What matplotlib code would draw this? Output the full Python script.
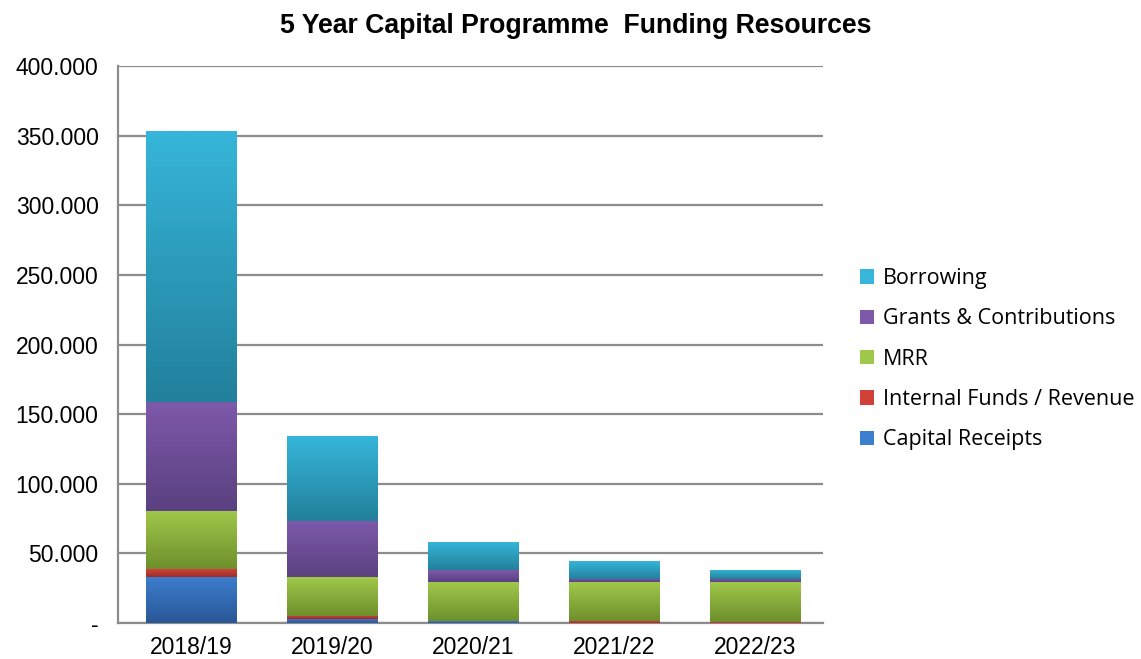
import numpy as np
import matplotlib
matplotlib.use("Agg")
import matplotlib.pyplot as plt
from matplotlib.colors import LinearSegmentedColormap

# values (in £m)
years = ["2018/19", "2019/20", "2020/21", "2021/22", "2022/23"]
capital_receipts = [33.3, 2.9, 1.4, 0.3, 0.2]
internal_funds = [5.3, 2.4, 0.2, 1.2, 0.2]
mrr = [41.8, 28.0, 27.6, 27.7, 28.8]
grants = [78.3, 40.2, 8.6, 2.2, 2.4]
borrowing = [194.6, 60.8, 20.4, 12.9, 6.5]

series = [
    ("Capital Receipts", capital_receipts, "#3C7ECF", "#2A5796"),
    ("Internal Funds / Revenue", internal_funds, "#D0413A", "#9E2D28"),
    ("MRR", mrr, "#A0C84A", "#6E8F2C"),
    ("Grants & Contributions", grants, "#7D59AA", "#5A4180"),
    ("Borrowing", borrowing, "#36B6DA", "#22809B"),
]

plt.rcParams['font.family'] = ['Liberation Sans', 'DejaVu Sans']

fig = plt.figure(figsize=(11.41, 6.59), dpi=100)
ax = fig.add_axes([0.1034, 0.0546, 0.6179, 0.8452])

x = np.arange(len(years))
width = 0.64
bottom = np.zeros(len(years))
handles = []
for name, vals, top_c, bot_c in series:
    bars = ax.bar(x + 0.02, vals, width, bottom=bottom, color=top_c, edgecolor="none",
                  label=name, zorder=2)
    # vertical gradient like the office chart fill
    cmap = LinearSegmentedColormap.from_list(name, [bot_c, top_c])
    grad = np.linspace(0, 1, 256).reshape(-1, 1)
    for b in bars:
        x0, y0 = b.get_x(), b.get_y()
        w, h = b.get_width(), b.get_height()
        if h <= 0:
            continue
        im = ax.imshow(grad, cmap=cmap, aspect="auto", origin="lower",
                       extent=[x0, x0 + w, y0, y0 + h], zorder=3)
        im.set_clip_path(b)
    handles.append(bars)
    bottom += np.array(vals)

ax.set_xlim(-0.5, len(years) - 0.5)
ax.set_ylim(0, 400)
ax.set_yticks(np.arange(0, 401, 50))
ax.set_yticklabels(["-"] + [f"{v:.3f}" for v in np.arange(50, 401, 50)], fontsize=16.5)
ax.set_xticks(x + 0.02)
ax.set_xticklabels(years, fontsize=16.5)
ax.tick_params(axis="y", length=0, pad=14)
ax.tick_params(axis="x", length=0, pad=9)
ax.yaxis.grid(True, color="#8C8C8C", linewidth=1.6, zorder=0)
ax.set_axisbelow(True)
for s in ["top", "right"]:
    ax.spines[s].set_visible(False)
ax.spines["left"].set_color("#8C8C8C")
ax.spines["left"].set_linewidth(1.6)
ax.spines["bottom"].set_color("#8C8C8C")
ax.spines["bottom"].set_linewidth(1.6)

fig.text(0.505, 0.960, "5 Year Capital Programme  Funding Resources", ha="center",
         va="center", fontsize=19.2, fontweight="bold")

leg = fig.legend(handles[::-1], [s[0] for s in series][::-1], loc="center left",
                 bbox_to_anchor=(0.737, 0.455), frameon=False, handlelength=0.65,
                 handleheight=0.65, handletextpad=0.4, labelspacing=0.9,
                 prop={"family": ["Open Sans", "DejaVu Sans"], "size": 15.5})

fig.savefig("out.png", dpi=100)
